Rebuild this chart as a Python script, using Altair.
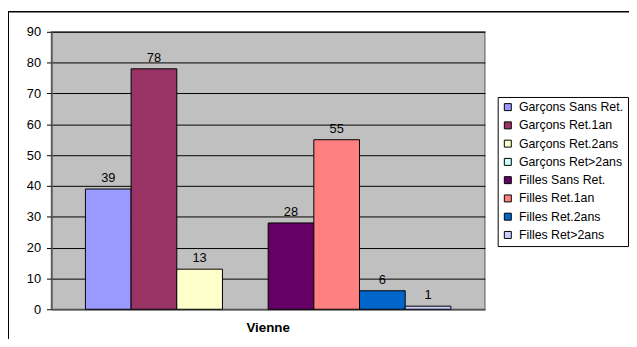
import altair as alt
import pandas as pd

categories = ["Vienne"]
series = ["Garçons Sans Ret.", "Garçons Ret.1an", "Garçons Ret.2ans", "Garçons Ret>2ans",
          "Filles Sans Ret.", "Filles Ret.1an", "Filles Ret.2ans", "Filles Ret>2ans"]
values = [39, 78, 13, None, 28, 55, 6, 1]
colors = ["#9999FF", "#993366", "#FFFFCC", "#CCFFFF", "#660066", "#FF8080", "#0066CC", "#CCCCFF"]
y_ticks = [0, 10, 20, 30, 40, 50, 60, 70, 80, 90]

df = pd.DataFrame({"lieu": categories * len(series), "serie": series, "valeur": values})

W, H = 439, 281
FONT = "Liberation Sans"

x_scale = alt.Scale(paddingInner=0, paddingOuter=0.093)
x_enc = alt.X("lieu:N", title=None, scale=x_scale,
              axis=alt.Axis(labelAngle=0, labelFontWeight="bold", labelFont=FONT, labelFontSize=13.5,
                            labelColor="black", ticks=False, labelPadding=12,
                            domainColor="#555555", domainWidth=1.5))
xo_enc = alt.XOffset("serie:N", sort=series, scale=alt.Scale(paddingInner=0, paddingOuter=0))
y_enc = alt.Y("valeur:Q", title=None,
              scale=alt.Scale(domain=[0, 90], nice=False),
              axis=alt.Axis(values=y_ticks, grid=True, gridColor="black", gridWidth=1,
                            labelFont=FONT, labelFontSize=13, labelColor="black", labelOverlap=False,
                            tickColor="black", tickSize=5, domainColor="#555555", domainWidth=1.5,
                            labelPadding=6))

bars = alt.Chart(df).mark_bar(stroke="black", strokeWidth=1).encode(
    x=x_enc, xOffset=xo_enc, y=y_enc,
    color=alt.Color("serie:N", sort=series,
                    scale=alt.Scale(domain=series, range=colors),
                    legend=alt.Legend(title=None, orient="none", legendX=452, legendY=66,
                                      symbolType="square", symbolSize=50, symbolStrokeColor="black",
                                      symbolStrokeWidth=1, labelFont=FONT, labelFontSize=12.5,
                                      labelColor="black", rowPadding=5.5, padding=4,
                                      strokeColor="black", fillColor="white", labelLimit=200,
                                      labelOffset=5, offset=0)),
)

labels = alt.Chart(df).transform_filter("isValid(datum.valeur)").mark_text(
    dy=-11, font=FONT, fontSize=13, color="black"
).encode(x=x_enc, xOffset=xo_enc, y=y_enc, text="valeur:Q")

frame = alt.Chart(df).mark_rect(fill=None, stroke="black", strokeWidth=1).encode(
    x=alt.value(-43.5), x2=alt.value(W + 200), y=alt.value(-20.5), y2=alt.value(H + 100)
)

chart = alt.layer(bars, labels, frame).properties(
    width=W, height=H,
    autosize=alt.AutoSizeParams(type="none"),
    padding={"left": 44, "top": 22, "right": 146, "bottom": 28},
).configure_view(stroke="#808080", strokeWidth=1.5, fill="#C0C0C0")

chart.save("out.html", embed_options={"renderer": "svg", "actions": False})
